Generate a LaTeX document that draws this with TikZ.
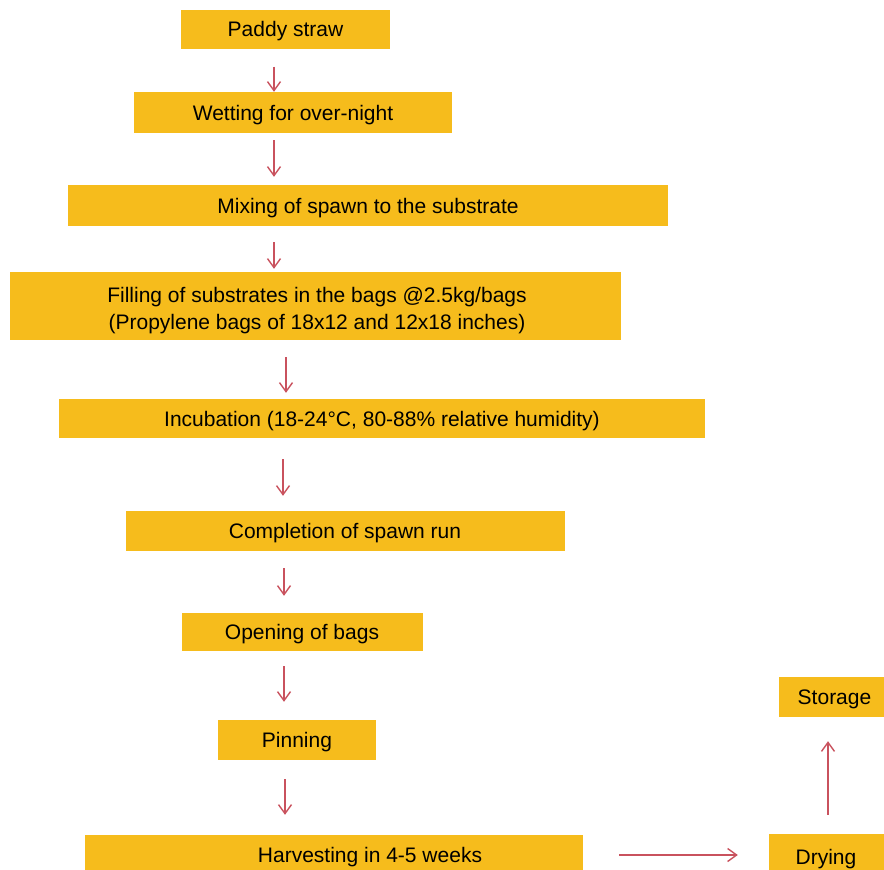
\documentclass[tikz,border=0pt]{standalone}
\usepackage{fontspec}
\setmainfont{Liberation Sans}
\usetikzlibrary{arrows.meta}
\definecolor{boxfill}{HTML}{F6BC1C}
\definecolor{arrowred}{HTML}{C9525E}
\tikzset{
  box/.style={fill=boxfill, draw=none, inner sep=0pt,
    text height=15pt, text depth=0pt,
    font=\fontsize{21}{27}\selectfont},
  lbl/.style={inner sep=0pt, anchor=base, font=\fontsize{21}{27}\selectfont},
  arr/.style={draw=arrowred, line width=1.4pt,
    -{Straight Barb[length=9pt,width=13pt,line width=1.4pt]}}
}
\begin{document}
\begin{tikzpicture}[x=1pt,y=-1pt]
\useasboundingbox (0,0) rectangle (884,870);
\clip (0,0) rectangle (884,870);

% process boxes
\node[box, minimum width=209pt, minimum height=39pt] (b1) at (285.5,29) {Paddy straw};
\node[box, minimum width=318pt, minimum height=41pt] (b2) at (293,112.5) {Wetting for over-night};
\node[box, minimum width=600pt, minimum height=41pt] (b3) at (368,205.5) {Mixing of spawn to the substrate};
\node[box, minimum width=611pt, minimum height=68pt] (b4) at (315,306) {};
\node[lbl] (t4a) at (317,302) {Filling of substrates in the bags @2.5kg/bags};
\node[lbl] (t4b) at (317,329) {(Propylene bags of 18x12 and 12x18 inches)};
\node[box, minimum width=646pt, minimum height=39pt] (b5) at (382,418.5) {Incubation (18-24°C, 80-88\% relative humidity)};
\node[box, minimum width=439pt, minimum height=40pt] (b6) at (345,531) {Completion of spawn run};
\node[box, minimum width=241pt, minimum height=38pt] (b7) at (302,632) {Opening of bags};
\node[box, minimum width=158pt, minimum height=40pt] (b8) at (297,740) {Pinning};
\node[box, minimum width=498pt, minimum height=45pt] (b9) at (334,857.5) {};
\node[lbl] (t9) at (370,862) {Harvesting in 4-5 weeks};
\node[box, minimum width=116pt, minimum height=46pt] (dry) at (827,857) {};
\node[lbl] (tdry) at (826,864) {Drying};
\node[box, minimum width=111pt, minimum height=40pt] (sto) at (834.5,697) {Storage};

% arrow columns
\coordinate (c1) at (274,0);
\coordinate (c4) at (286,0);
\coordinate (c5) at (283,0);
\coordinate (c6) at (284,0);
\coordinate (c8) at (285,0);
\coordinate (r9) at (0,855);
\coordinate (cs) at (828,0);

% connectors
\draw[arr] ([yshift=-18pt]b1.south -| c1) -- (b2.north -| c1);
\draw[arr] ([yshift=-7pt]b2.south -| c1) -- ([yshift=8pt]b3.north -| c1);
\draw[arr] ([yshift=-16pt]b3.south -| c1) -- ([yshift=3pt]b4.north -| c1);
\draw[arr] ([yshift=-17pt]b4.south -| c4) -- ([yshift=6pt]b5.north -| c4);
\draw[arr] ([yshift=-21pt]b5.south -| c5) -- ([yshift=15pt]b6.north -| c5);
\draw[arr] ([yshift=-17pt]b6.south -| c6) -- ([yshift=17pt]b7.north -| c6);
\draw[arr] ([yshift=-15pt]b7.south -| c6) -- ([yshift=18pt]b8.north -| c6);
\draw[arr] ([yshift=-19pt]b8.south -| c8) -- ([yshift=20pt]b9.north -| c8);
\draw[arr] ([xshift=36pt]b9.east |- r9) -- ([xshift=-31pt]dry.west |- r9);
\draw[arr] ([yshift=19pt]dry.north -| cs) -- ([yshift=-24pt]sto.south -| cs);
\end{tikzpicture}
\end{document}
